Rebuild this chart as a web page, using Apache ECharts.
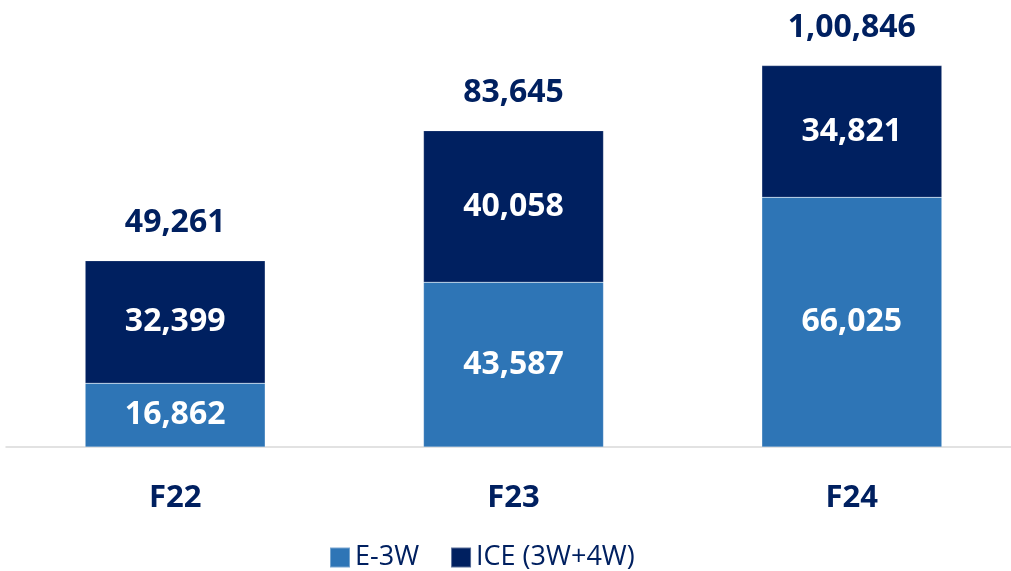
<!DOCTYPE html>
<html lang="en">
<head>
    <meta charset="utf-8"/>
    <title>E-3W vs ICE</title>
    <script type="text/javascript" src="https://cdn.jsdelivr.net/npm/echarts@6/dist/echarts.min.js"></script>
    <style>
        html, body {
            margin: 0;
            height: 100%;
            background: #FFFFFF;
            overflow: hidden;
        }

        #chart {
            width: 1030px;
            height: 571px;
        }
    </style>
</head>
<body>
<div id="chart"></div>
<script>
    var categories = ['F22', 'F23', 'F24']
    var e3w = [16862, 43587, 66025]
    var ice = [32399, 40058, 34821]
    var totals = [49261, 83645, 100846]

    // Indian digit grouping, e.g. 1,00,846
    function fmtIN(v) {
        var s = String(v)
        if (s.length <= 3) return s
        var last = s.slice(-3)
        var rest = s.slice(0, -3).replace(/\B(?=(\d{2})+(?!\d))/g, ',')
        return rest + ',' + last
    }

    var font = '"Open Sans", "Noto Sans", sans-serif'
    var navy = '#002060'
    var blue = '#2E75B6'

    var chart = echarts.init(document.getElementById('chart'))
    chart.setOption({
        animation: false,
        textStyle: {fontFamily: font},
        grid: {left: 6, width: 1015, top: 31, bottom: 124},
        legend: {
            bottom: -5,
            left: 324,
            icon: 'rect',
            itemWidth: 20,
            itemHeight: 20,
            itemGap: 31,
            textStyle: {fontSize: 27, color: navy, fontFamily: font},
            data: ['E-3W', 'ICE (3W+4W)']
        },
        xAxis: {
            type: 'category',
            data: categories,
            axisTick: {show: false},
            axisLine: {lineStyle: {color: '#D9D9D9', width: 1.5}},
            axisLabel: {margin: 36, fontSize: 31, fontWeight: 'bold', color: navy}
        },
        yAxis: {
            type: 'value',
            min: 0,
            max: 110000,
            show: false,
            splitLine: {show: false}
        },
        series: [
            {
                name: 'E-3W',
                type: 'bar',
                stack: 'total',
                barWidth: 180,
                data: e3w,
                itemStyle: {color: blue, borderColor: 'rgba(255,255,255,0.35)', borderWidth: 0.5},
                label: {
                    show: true, position: 'inside', color: '#FFFFFF', fontSize: 32, fontWeight: 'bold',
                    formatter: function (p) { return fmtIN(p.value) }
                }
            },
            {
                name: 'ICE (3W+4W)',
                type: 'bar',
                stack: 'total',
                barWidth: 180,
                data: ice,
                itemStyle: {color: navy, borderColor: 'rgba(255,255,255,0.35)', borderWidth: 0.5},
                label: {
                    show: true, position: 'inside', color: '#FFFFFF', fontSize: 32, fontWeight: 'bold',
                    formatter: function (p) { return fmtIN(p.value) }
                }
            },
            {
                name: 'Total',
                type: 'bar',
                barWidth: 180,
                barGap: '-100%',
                data: totals,
                z: 0,
                itemStyle: {color: 'transparent'},
                emphasis: {disabled: true},
                label: {
                    show: true, position: 'top', distance: 22, color: navy, fontSize: 32, fontWeight: 'bold',
                    formatter: function (p) { return fmtIN(p.value) }
                }
            }
        ]
    })
</script>
</body>
</html>
